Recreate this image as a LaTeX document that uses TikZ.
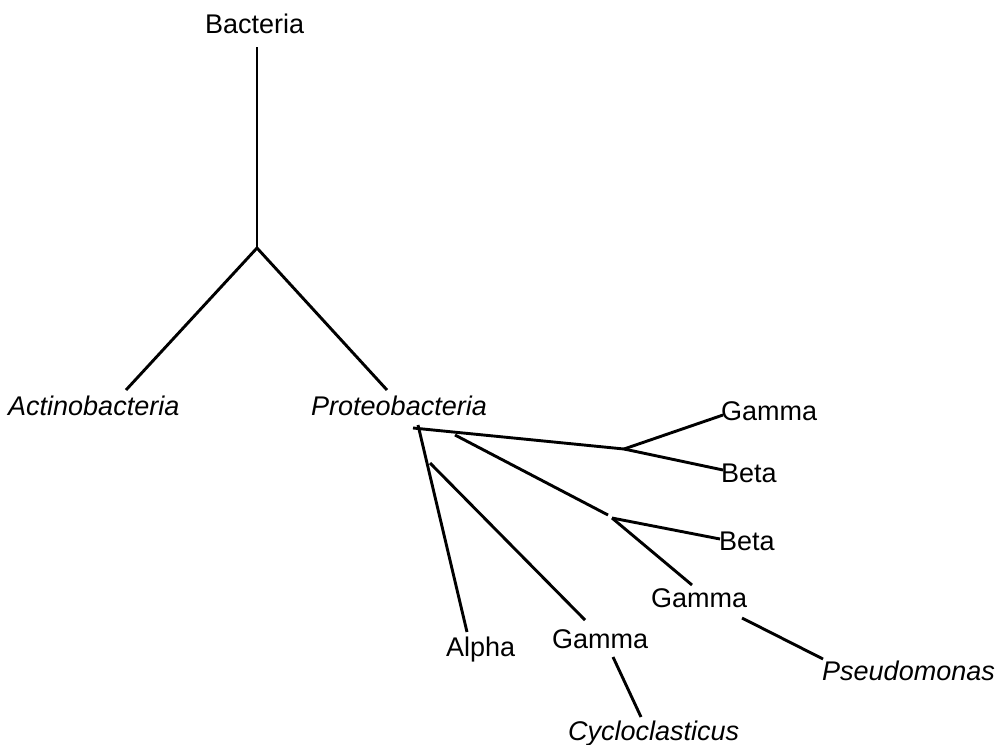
\documentclass[tikz,border=0pt]{standalone}
\usepackage{fontspec}
\setmainfont{Liberation Sans}
\begin{document}
\begin{tikzpicture}[x=1pt,y=-1pt,
  lbl/.style={anchor=base west,inner sep=0pt,font=\fontsize{27}{30}\selectfont},
  ilbl/.style={lbl,font=\fontsize{27}{30}\selectfont\itshape},
  branch/.style={line width=2.9pt},
  stem/.style={line width=2.2pt}]
\useasboundingbox (0,0) rectangle (1003,744);
% labels
\node[lbl] (bac) at (205,33) {Bacteria};
\node[ilbl] (act) at (8,415) {Actinobacteria};
\node[ilbl] (pro) at (311,415) {Proteobacteria};
\node[lbl] (g1) at (721,420) {Gamma};
\node[lbl] (b1) at (721,482) {Beta};
\node[lbl] (b2) at (719,550) {Beta};
\node[lbl] (g2) at (651,607) {Gamma};
\node[lbl] (alpha) at (446,656) {Alpha};
\node[lbl] (g3) at (552,648) {Gamma};
\node[ilbl] (cyc) at (568,740) {Cycloclasticus};
\node[ilbl] (pse) at (822,680) {Pseudomonas};
% coordinates
\coordinate (top) at (257,47);
\coordinate (root) at (257,248);
\coordinate (actend) at (126,390);
\coordinate (proend) at (387,390);
\coordinate (p0) at (413,428);
\coordinate (pa) at (418,425);
\coordinate (alphaend) at (467,632);
\coordinate (f1) at (624,449);
\coordinate (g1end) at (723,415);
\coordinate (b1end) at (723,470);
\coordinate (q0) at (455,435);
\coordinate (q1) at (608,515);
\coordinate (f2) at (612,518);
\coordinate (b2end) at (720,539);
\coordinate (g2end) at (692,585);
\coordinate (r0) at (430,463);
\coordinate (g3end) at (585,620);
\coordinate (g3out) at (613,657);
\coordinate (cycend) at (641,717);
\coordinate (g2out) at (742,618);
\coordinate (pseend) at (823,659);
% connectors
\draw[stem] (top) -- (root);
\draw[branch] (root) -- (actend);
\draw[branch] (root) -- (proend);
\draw[branch] (p0) -- (f1);
\draw[branch] (pa) -- (alphaend);
\draw[branch] (f1) -- (g1end);
\draw[branch] (f1) -- (b1end);
\draw[branch] (q0) -- (q1);
\draw[branch] (f2) -- (b2end);
\draw[branch] (f2) -- (g2end);
\draw[branch] (r0) -- (g3end);
\draw[branch] (g3out) -- (cycend);
\draw[branch] (g2out) -- (pseend);
\end{tikzpicture}
\end{document}
